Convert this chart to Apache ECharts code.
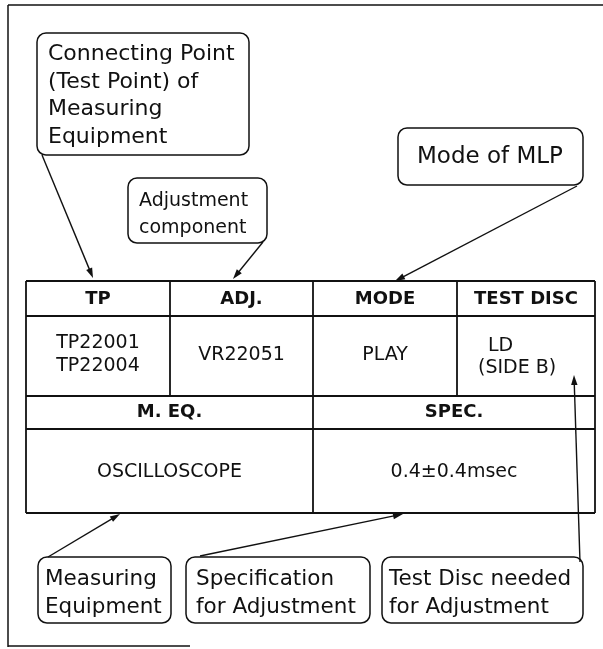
<!DOCTYPE html>
<html>
<head>
<meta charset="utf-8">
<script src="https://cdn.jsdelivr.net/npm/echarts/dist/echarts.min.js"></script>
<style>html,body{margin:0;padding:0;background:#fff;}#c{width:603px;height:649px;}</style>
</head>
<body>
<div id="c"></div>
<script>
// ---- content ----
const headerTop = ['TP', 'ADJ.', 'MODE', 'TEST DISC'];
const tpValues = ['TP22001', 'TP22004'];
const adjValues = ['VR22051'];
const modeValues = ['PLAY'];
const discValues = ['LD', '(SIDE B)'];
const headerBottom = ['M. EQ.', 'SPEC.'];
const bottomValues = ['OSCILLOSCOPE', '0.4\u00b10.4msec'];
const calloutTP = ['Connecting Point', '(Test Point) of', 'Measuring', 'Equipment'];
const calloutADJ = ['Adjustment', 'component'];
const calloutMODE = ['Mode of MLP'];
const calloutMEQ = ['Measuring', 'Equipment'];
const calloutSPEC = ['Specification', 'for Adjustment'];
const calloutDISC = ['Test Disc needed', 'for Adjustment'];

// ---- layout ----
const FONT = 'DejaVu Sans';
const INK = '#111';
const colX = [26, 170, 313, 457, 595];
const rowY = [281, 316, 396, 429, 513];

const els = [];
function line(x1, y1, x2, y2, w) {
  els.push({type: 'line', shape: {x1, y1, x2, y2}, style: {stroke: INK, lineWidth: w || 1.5}});
}
function text(str, x, y, size, align, bold) {
  els.push({type: 'text', x: x, y: y, style: {
    text: str, fill: INK, font: (bold ? 'bold ' : '') + size + 'px "' + FONT + '"',
    textAlign: align || 'center', textVerticalAlign: 'middle', verticalAlign: 'middle'
  }});
}
function box(x, y, w, h, lines, tx, ty0, dy, size, align) {
  els.push({type: 'rect', shape: {x, y, width: w, height: h, r: 9},
    style: {fill: 'none', stroke: INK, lineWidth: 1.5}});
  lines.forEach((s, i) => text(s, tx, ty0 + i * dy, size, align || 'left'));
}
function arrow(x1, y1, x2, y2) {
  const dx = x2 - x1, dy = y2 - y1, L = Math.hypot(dx, dy), ux = dx / L, uy = dy / L;
  const hl = 10, hw = 3.2, bx = x2 - ux * hl, by = y2 - uy * hl, px = -uy, py = ux;
  line(x1, y1, bx + ux * 2, by + uy * 2, 1.4);
  els.push({type: 'polygon', shape: {points: [[x2, y2], [bx + px * hw, by + py * hw], [bx - px * hw, by - py * hw]]},
    style: {fill: INK}});
}

// outer frame
line(8, 5, 603, 5, 1.5);
line(8, 5, 8, 647, 1.5);
line(8, 646, 190, 646, 1.5);

// table
line(colX[0], rowY[0], colX[4], rowY[0], 1.8);
rowY.slice(1).forEach(y => line(colX[0], y, colX[4], y, 1.8));
line(colX[0], rowY[0], colX[0], rowY[4], 1.8);
line(colX[4], rowY[0], colX[4], rowY[4], 1.8);
[1, 2, 3].forEach(i => line(colX[i], rowY[0], colX[i], rowY[2], 1.8));
line(colX[2], rowY[2], colX[2], rowY[4], 1.8);

const cx = i => (colX[i] + colX[i + 1]) / 2;
headerTop.forEach((s, i) => text(s, cx(i), 299, 18, 'center', true));
tpValues.forEach((s, i) => text(s, cx(0), 343 + i * 23, 19));
text(adjValues[0], cx(1), 355, 19);
text(modeValues[0], cx(2), 355, 19);
text(discValues[0], 488, 346, 19, 'left');
text(discValues[1], 478, 368, 19, 'left');
const hx = [(colX[0] + colX[2]) / 2, (colX[2] + colX[4]) / 2];
headerBottom.forEach((s, i) => text(s, hx[i], 412, 18, 'center', true));
bottomValues.forEach((s, i) => text(s, hx[i], 472, 19));

// callouts
box(37, 33, 212, 122, calloutTP, 48, 54, 27.8, 22);
box(128, 178, 139, 65, calloutADJ, 139, 201, 27, 19);
box(398, 128, 185, 57, calloutMODE, 490, 157, 0, 23, 'center');
box(38, 557, 133, 66, calloutMEQ, 45, 579, 28, 21.5);
box(186, 557, 184, 66, calloutSPEC, 196, 579, 28, 21.5);
box(382, 557, 201, 66, calloutDISC, 389, 579, 28, 21.5);

// arrows
arrow(42, 155, 93, 278);
arrow(263, 242, 233, 279);
arrow(577, 186, 395, 281);
arrow(48, 557, 120, 514);
arrow(200, 556, 403, 514);
arrow(580, 562, 574, 375);

const chart = echarts.init(document.getElementById('c'), null, {renderer: 'canvas'});
chart.setOption({backgroundColor: '#fff', animation: false, graphic: {elements: els}});
</script>
</body>
</html>
